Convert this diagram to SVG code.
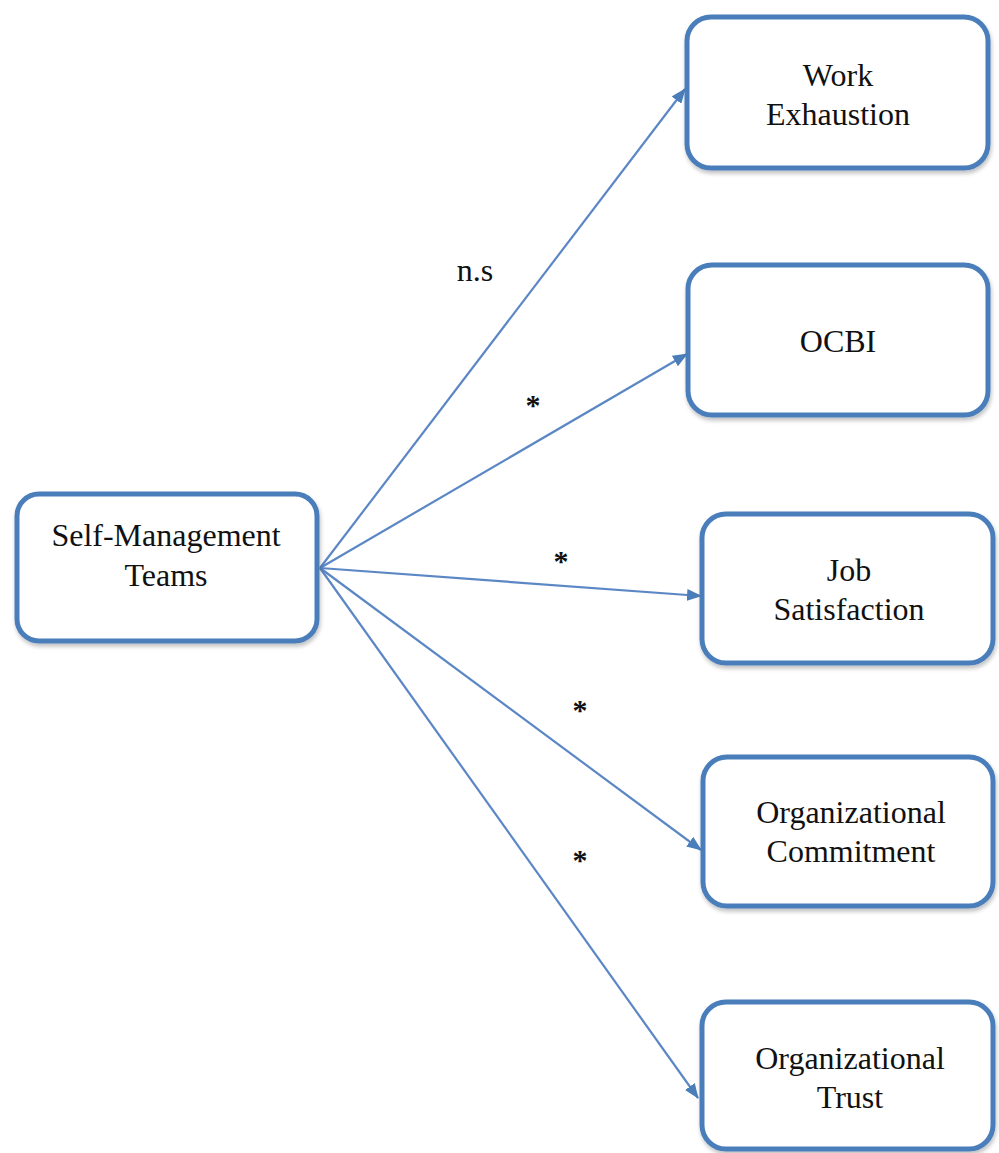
<svg xmlns="http://www.w3.org/2000/svg" width="999" height="1153" viewBox="0 0 999 1153">
  <style>
    .box { fill: #ffffff; stroke: #4a7ebb; stroke-width: 5; filter: url(#shadow); }
    .lbl { font-family: "Liberation Serif", "Times New Roman", serif; font-size: 32px; fill: #111111; text-anchor: middle; }
    .sig { font-family: "Liberation Serif", "Times New Roman", serif; font-size: 30px; font-weight: bold; fill: #111111; text-anchor: middle; }
    .edge { stroke: #5b87c5; stroke-width: 2.2; fill: none; marker-end: url(#arrow); }
  </style>
  <defs>
    <filter id="shadow" x="-10%" y="-10%" width="120%" height="125%">
      <feGaussianBlur in="SourceAlpha" stdDeviation="2"/>
      <feOffset dx="1" dy="3" result="blur"/>
      <feComponentTransfer><feFuncA type="linear" slope="0.25"/></feComponentTransfer>
      <feMerge><feMergeNode/><feMergeNode in="SourceGraphic"/></feMerge>
    </filter>
    <marker id="arrow" viewBox="0 0 15 12" refX="14" refY="6" markerWidth="15" markerHeight="12" markerUnits="userSpaceOnUse" orient="auto">
      <path d="M0,0 L15,6 L0,12 z" fill="#4a7ebb"/>
    </marker>
  </defs>

  <rect width="999" height="1153" fill="#ffffff"/>

  <!-- connectors -->
  <g id="connectors">
    <line class="edge" x1="320" y1="568" x2="685" y2="89"/>
    <line class="edge" x1="320" y1="568" x2="687" y2="354"/>
    <line class="edge" x1="320" y1="568" x2="701" y2="596"/>
    <line class="edge" x1="320" y1="568" x2="701" y2="850"/>
    <line class="edge" x1="320" y1="568" x2="698" y2="1098"/>
    <text class="lbl" x="475" y="281">n.s</text>
    <text class="sig" x="533" y="415">*</text>
    <text class="sig" x="561" y="571">*</text>
    <text class="sig" x="580" y="720">*</text>
    <text class="sig" x="580" y="870">*</text>
  </g>

  <g id="self-management-teams">
    <rect class="box" x="17" y="494" width="300" height="147" rx="22"/>
    <text class="lbl" x="166" y="546">Self-Management</text>
    <text class="lbl" x="166" y="586">Teams</text>
  </g>

  <g id="work-exhaustion">
    <rect class="box" x="687" y="17" width="301" height="151" rx="24"/>
    <text class="lbl" x="838" y="86">Work</text>
    <text class="lbl" x="838" y="125">Exhaustion</text>
  </g>

  <g id="ocbi">
    <rect class="box" x="688" y="265" width="300" height="150" rx="24"/>
    <text class="lbl" x="838" y="352">OCBI</text>
  </g>

  <g id="job-satisfaction">
    <rect class="box" x="702" y="514" width="291" height="149" rx="24"/>
    <text class="lbl" x="849" y="581">Job</text>
    <text class="lbl" x="849" y="620">Satisfaction</text>
  </g>

  <g id="organizational-commitment">
    <rect class="box" x="703" y="757" width="290" height="149" rx="24"/>
    <text class="lbl" x="851" y="823">Organizational</text>
    <text class="lbl" x="851" y="862">Commitment</text>
  </g>

  <g id="organizational-trust">
    <rect class="box" x="702" y="1002" width="291" height="147" rx="24"/>
    <text class="lbl" x="850" y="1069">Organizational</text>
    <text class="lbl" x="850" y="1108">Trust</text>
  </g>
</svg>
